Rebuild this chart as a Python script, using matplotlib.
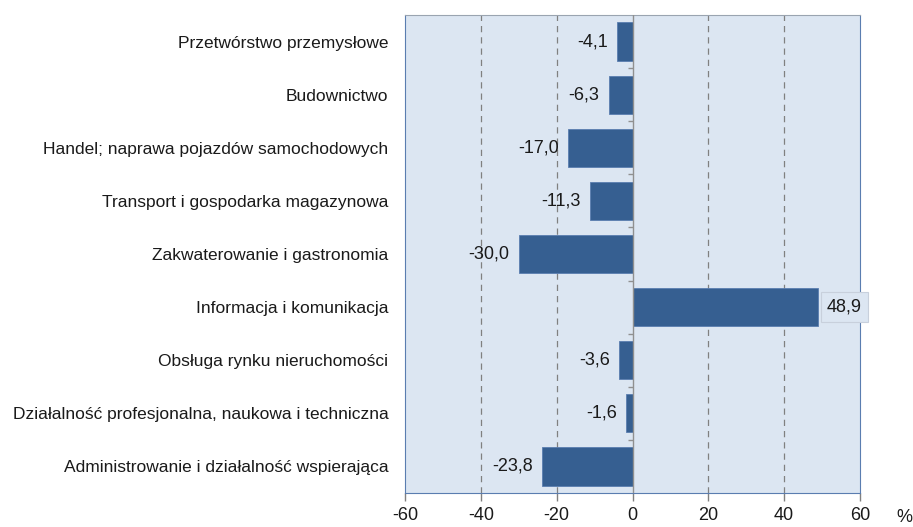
import matplotlib.pyplot as plt
import numpy as np

plt.rcParams['font.family'] = ['Liberation Sans', 'DejaVu Sans']

categories = [
    "Przetwórstwo przemysłowe",
    "Budownictwo",
    "Handel; naprawa pojazdów samochodowych",
    "Transport i gospodarka magazynowa",
    "Zakwaterowanie i gastronomia",
    "Informacja i komunikacja",
    "Obsługa rynku nieruchomości",
    "Działalność profesjonalna, naukowa i techniczna",
    "Administrowanie i działalność wspierająca",
]
values = [-4.1, -6.3, -17.0, -11.3, -30.0, 48.9, -3.6, -1.6, -23.8]
xticks = [-60, -40, -20, 0, 20, 40, 60]

bg = "#dce6f2"
bar_color = "#365f91"

fig = plt.figure(figsize=(9.13, 5.27), dpi=100)
ax = fig.add_axes([405 / 913, 1 - 493 / 527, 455 / 913, 478 / 527])
ax.set_facecolor(bg)

y = np.arange(len(categories))
ax.barh(y, values, height=0.72, color=bar_color, edgecolor="#5a7db0", linewidth=0.6, zorder=3)

ax.set_xlim(-60, 60)
ax.set_ylim(len(categories) - 0.5, -0.5)

for gx in [-40, -20, 20, 40]:
    ax.axvline(gx, color="#808080", linestyle=(0, (5, 4)), linewidth=0.9, zorder=1)
ax.axvline(0, color="#909090", linewidth=1.0, zorder=4)
# category tick marks on the zero axis
ax.hlines(np.arange(len(categories) - 1) + 0.5, -1.2, 0, color="#909090", linewidth=1.0, zorder=4)

for yi, v in zip(y, values):
    label = f"{v:.1f}".replace(".", ",")
    if v < 0:
        ax.text(v - 2.4, yi, label, ha="right", va="center", fontsize=13, color="#1a1a1a", zorder=5)
    else:
        ax.text(v + 2.4, yi, label, ha="left", va="center", fontsize=13, color="#1a1a1a", zorder=5,
                bbox=dict(boxstyle="square,pad=0.35", facecolor=bg, edgecolor="#c8d0dc", linewidth=0.8),
                clip_on=False)

ax.set_yticks(y)
ax.set_yticklabels(categories, fontsize=12.5, color="#1a1a1a")
ax.tick_params(axis="y", length=0, pad=12)

ax.set_xticks(xticks)
ax.set_xticklabels([str(t) for t in xticks], fontsize=13, color="#1a1a1a")
ax.tick_params(axis="x", direction="out", length=6, width=1, color="#808080", pad=4)

for side in ["left", "right", "bottom"]:
    ax.spines[side].set_color("#5a7db0")
ax.spines["top"].set_color("#9aa4b0")

fig.text(896 / 913, 1 - 518 / 527, "%", fontsize=13, ha="left", va="center", color="#1a1a1a")

fig.savefig("out.png", dpi=100)
